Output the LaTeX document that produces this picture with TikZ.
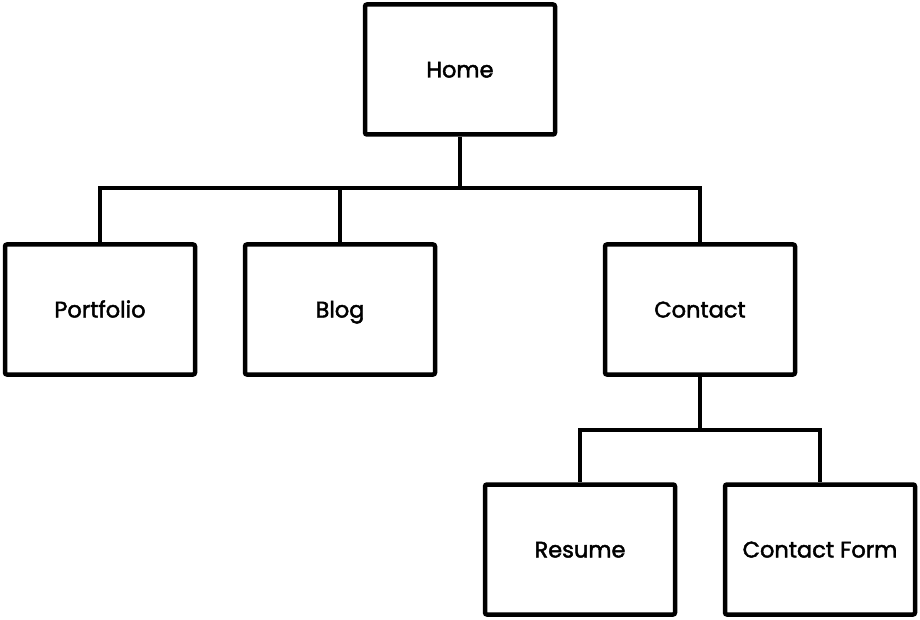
\documentclass[tikz,border=0pt]{standalone}
\usepackage{fontspec}
\setmainfont{Poppins}
\newfontfamily\boxfont[FakeBold=2]{Poppins}
\begin{document}
\begin{tikzpicture}[x=1pt,y=-1pt,
  pagebox/.style={draw=black, line width=4.5pt, fill=white, minimum width=190pt, minimum height=130pt, rounded corners=2pt, inner sep=0pt, text height=16pt, text depth=0pt, font=\boxfont\fontsize{22.5}{26}\selectfont, text=black},
  link/.style={draw=black, line width=3.5pt}]
\useasboundingbox (0,0) rectangle (920,620);
\node[pagebox] (home) at (460,69.5) {Home};
\node[pagebox] (port) at (100,309.5) {Portfolio};
\node[pagebox] (blog) at (340,309.5) {Blog};
\node[pagebox] (contact) at (700,309.5) {Contact};
\node[pagebox] (resume) at (580,549.5) {Resume};
\node[pagebox] (form) at (820,549.5) {Contact Form};
\coordinate (j1) at (460,188);
\coordinate (j2) at (700,430);
\draw[link] (home.south) -- (j1);
\draw[link] (port.north) |- (j1) -| (contact.north);
\draw[link] (blog.north) -- (blog.north |- j1);
\draw[link] (contact.south) -- (j2);
\draw[link] (resume.north) |- (j2) -| (form.north);
\end{tikzpicture}
\end{document}
